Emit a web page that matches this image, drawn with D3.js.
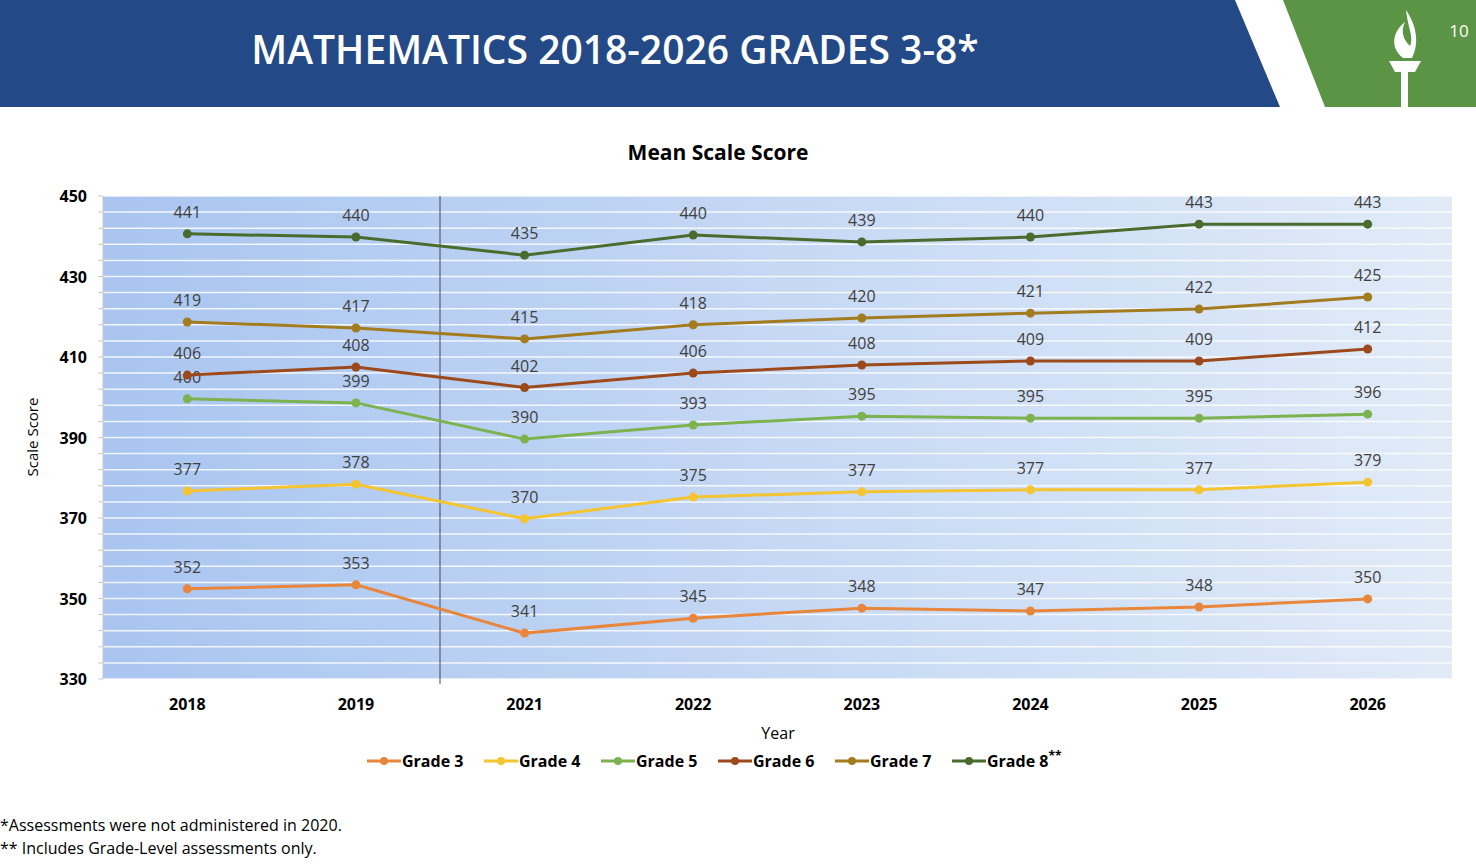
<!DOCTYPE html>
<html><head><meta charset="utf-8">
<script src="https://cdn.jsdelivr.net/npm/d3@7"></script>
<style>body{margin:0;background:#fff;font-family:"Open Sans","Noto Sans",sans-serif;}</style>
</head><body>
<svg id="c" width="1476" height="864"></svg>
<script>
var years = ["2018","2019","2021","2022","2023","2024","2025","2026"];
var grade3 = [352.4,353.4,341.4,345.1,347.6,346.9,347.9,349.9];
var grade4 = [376.7,378.4,369.8,375.2,376.5,377.0,377.0,378.9];
var grade5 = [399.6,398.6,389.6,393.1,395.3,394.8,394.8,395.8];
var grade6 = [405.5,407.5,402.4,406.0,408.0,409.0,409.0,412.0];
var grade7 = [418.7,417.2,414.5,418.0,419.7,420.9,421.9,424.9];
var grade8 = [440.6,439.8,435.3,440.3,438.6,439.8,443.0,443.0];
var seriesNames = ["Grade 3","Grade 4","Grade 5","Grade 6","Grade 7","Grade 8"];
var colors = ["#e8863c","#f4c431","#7cb24f","#9c4a1c","#a27c1e","#4a6b2e"];
var series = [grade3,grade4,grade5,grade6,grade7,grade8];
var yTicks = [330,350,370,390,410,430,450];

var svg = d3.select("#c");

// header
svg.append("path").attr("d","M0,0H1235L1280,107H0Z").attr("fill","#234a87");
svg.append("path").attr("d","M1283,0H1476V107H1325Z").attr("fill","#5a9444");
svg.append("text").attr("x",615).attr("y",64).attr("text-anchor","middle")
  .attr("fill","#fff").attr("font-size",39).attr("font-weight",600).text("MATHEMATICS 2018-2026 GRADES 3-8*");
svg.append("text").attr("x",1459).attr("y",37).attr("text-anchor","middle")
  .attr("fill","#fff").attr("font-size",17).text("10");
// torch
var t = svg.append("g").attr("fill","#fff");
t.append("path").attr("d","M1403,58 C1390,48 1392,32 1405,22 C1400,32 1404,40 1410,46 C1414,38 1408,28 1406,10 C1416,25 1420,42 1412,58Z");
t.append("path").attr("d","M1389,61H1421L1415,72H1395Z");
t.append("rect").attr("x",1401).attr("y",72).attr("width",7).attr("height",35);

var m = {l:103, r:1452, t:196, b:679};
var x = d3.scaleBand().domain(years).range([m.l,m.r]);
var y = d3.scaleLinear().domain([330,450]).range([m.b,m.t]);

var grad = svg.append("defs").append("linearGradient").attr("id","bg");
grad.append("stop").attr("offset","0%").attr("stop-color","#a9c5f0");
grad.append("stop").attr("offset","100%").attr("stop-color","#e1ebf8");
svg.append("rect").attr("x",m.l).attr("y",m.t).attr("width",m.r-m.l).attr("height",m.b-m.t).attr("fill","url(#bg)");

var minor = d3.range(330,451,4);
svg.append("g").selectAll("line").data(minor).join("line")
  .attr("x1",m.l).attr("x2",m.r).attr("y1",d=>y(d)).attr("y2",d=>y(d))
  .attr("stroke","#fff").attr("stroke-width",1.5).attr("opacity",0.85);
svg.append("g").selectAll("line").data(minor).join("line")
  .attr("x1",m.l-5).attr("x2",m.l).attr("y1",d=>y(d)).attr("y2",d=>y(d)).attr("stroke","#c8c8c8");
svg.append("line").attr("x1",m.l).attr("x2",m.l).attr("y1",m.t).attr("y2",m.b).attr("stroke","#c8c8c8");

svg.append("line").attr("x1",440).attr("x2",440).attr("y1",m.t).attr("y2",684).attr("stroke","#3f4a5e").attr("stroke-width",1);

svg.append("g").selectAll("text").data(yTicks).join("text")
  .attr("x",87).attr("y",d=>y(d)+6).attr("text-anchor","end")
  .attr("font-size",16).attr("font-weight",700).text(d=>d);
svg.append("g").selectAll("text").data(years).join("text")
  .attr("x",d=>x(d)+x.bandwidth()/2).attr("y",710).attr("text-anchor","middle")
  .attr("font-size",16).attr("font-weight",700).text(d=>d);

svg.append("text").attr("x",718).attr("y",160).attr("text-anchor","middle").attr("font-size",21).attr("font-weight",700).text("Mean Scale Score");
svg.append("text").attr("x",778).attr("y",739).attr("text-anchor","middle").attr("font-size",16).text("Year");
svg.append("text").attr("transform","translate(38,437) rotate(-90)").attr("text-anchor","middle").attr("font-size",15).text("Scale Score");

var cx = (d,i)=>x(years[i])+x.bandwidth()/2;
var line = d3.line().x(cx).y(d=>y(d));
series.forEach(function(s,k){
  var g = svg.append("g");
  g.append("path").attr("d",line(s)).attr("fill","none").attr("stroke",colors[k]).attr("stroke-width",3);
  g.selectAll("circle").data(s).join("circle").attr("cx",cx).attr("cy",d=>y(d)).attr("r",4.5).attr("fill",colors[k]);
  g.selectAll("text").data(s).join("text").attr("x",cx).attr("y",d=>y(d)-16)
    .attr("text-anchor","middle").attr("font-size",16).attr("fill","#404040").text(d=>Math.round(d));
});

// legend
var lx = [367,484,601,718,835,952];
seriesNames.forEach(function(n,k){
  var g = svg.append("g").attr("transform","translate("+lx[k]+",761)");
  g.append("line").attr("x1",0).attr("x2",34).attr("stroke",colors[k]).attr("stroke-width",3);
  g.append("circle").attr("cx",17).attr("r",4).attr("fill",colors[k]);
  var tx = g.append("text").attr("x",35).attr("y",6).attr("font-size",16).attr("font-weight",700).text(n);
  if (k==5) tx.append("tspan").attr("dy",-7).attr("font-size",12).text("**");
});

svg.append("text").attr("x",0).attr("y",831).attr("font-size",16).text("*Assessments were not administered in 2020.");
svg.append("text").attr("x",0).attr("y",854).attr("font-size",16).text("** Includes Grade-Level assessments only.");
</script>
</body></html>
